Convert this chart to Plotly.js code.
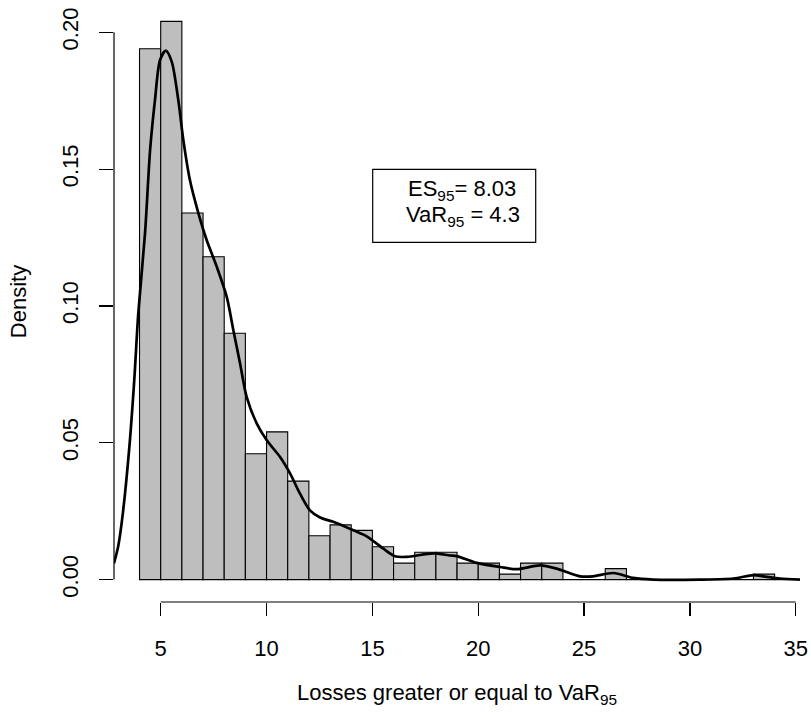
<!DOCTYPE html>
<html>
<head>
<meta charset="utf-8">
<script src="https://cdn.plot.ly/plotly-3.0.1.min.js"></script>
<style>html,body{margin:0;padding:0;background:#fff;}#chart{width:811px;height:714px;}</style>
</head>
<body>
<div id="chart"></div>
<script>
// Histogram breaks (bin edges) and densities
const breaks = [4,5,6,7,8,9,10,11,12,13,14,15,16,17,18,19,20,21,22,23,24,25,26,27,28,29,30,31,32,33,34,35];
const densities = [0.194,0.204,0.134,0.118,0.090,0.046,0.054,0.036,0.016,0.020,0.018,0.012,0.006,0.010,0.010,0.006,0.006,0.002,0.006,0.006,0,0,0.004,0,0,0,0,0,0,0.002,0];

// Kernel density curve
const kdeX = [2.79,3.00,3.21,3.52,3.75,3.94,4.26,4.50,4.73,4.97,5.24,5.52,5.83,6.07,6.38,6.78,7.17,7.65,8.12,8.43,8.75,9.06,9.54,10.01,10.64,11.11,11.58,12.05,12.53,13.15,14.10,14.73,15.52,16.07,16.62,17.88,18.67,18.98,19.93,21.03,21.82,22.92,23.71,24.81,25.42,26.38,27.32,28.27,30.47,32.05,33.00,33.46,34.25,35.20];
const kdeY = [0.0059,0.0125,0.0241,0.0485,0.0728,0.0972,0.1266,0.1570,0.1753,0.1899,0.1933,0.1893,0.1753,0.1606,0.1460,0.1339,0.1241,0.1143,0.1033,0.0912,0.0790,0.0668,0.0570,0.0509,0.0448,0.0388,0.0314,0.0253,0.0227,0.0211,0.0180,0.0158,0.0113,0.0085,0.0083,0.0096,0.0088,0.0086,0.0061,0.0046,0.0038,0.0052,0.0040,0.0012,0.0012,0.0024,0.0006,0.0000,0.0000,0.0004,0.0016,0.0012,0.0004,0.0000];

const xTicks = [5,10,15,20,25,30,35];
const yTicks = [0,0.05,0.10,0.15,0.20];
const yTickText = ["0.00","0.05","0.10","0.15","0.20"];

const esText = "ES<sub>95</sub>= 8.03";
const varText = "VaR<sub>95</sub> = 4.3";
const xTitle = "Losses greater or equal to VaR<sub>95</sub>";
const yTitle = "Density";

const centers = densities.map((d,i)=> (breaks[i]+breaks[i+1])/2);
const widths = densities.map((d,i)=> breaks[i+1]-breaks[i]);

const FONT = "Liberation Sans, Arial, Helvetica, sans-serif";
const L=114, R=800, T=3, B=601.7;
const xp = px => (px-L)/(R-L);
const yp = py => (B-py)/(B-T);

const traces = [
  {type:'bar', x:centers, y:densities, width:widths,
   marker:{color:'#BEBEBE', line:{color:'#000', width:1.1}}, hoverinfo:'skip'},
  {type:'scatter', mode:'lines', x:kdeX, y:kdeY,
   line:{color:'#000', width:2.7, shape:'spline', smoothing:0.8}, hoverinfo:'skip'}
];

const layout = {
  width:811, height:714,
  margin:{l:L, r:811-R, t:T, b:714-B},
  paper_bgcolor:'#fff', plot_bgcolor:'#fff',
  showlegend:false, bargap:0,
  font:{family:FONT, size:22, color:'#000'},
  xaxis:{range:[2.794,35.20], tickvals:xTicks, ticktext:xTicks.map(String),
         ticks:'outside', ticklen:13, tickwidth:1.2, tickcolor:'#000',
         showgrid:false, zeroline:false, showline:false,
         ticklabelstandoff:14, tickfont:{family:FONT,size:22,color:'#000'}},
  yaxis:{range:[-0.00819,0.21072], tickvals:yTicks, ticktext:yTickText,
         ticks:'outside', ticklen:14, tickwidth:1.2, tickcolor:'#000', tickangle:-90,
         showgrid:false, zeroline:false, showline:false,
         ticklabelstandoff:12, tickfont:{family:FONT,size:22,color:'#000'}},
  shapes:[
    {type:'line', xref:'x', yref:'paper', x0:xTicks[0], x1:xTicks[xTicks.length-1], y0:0, y1:0, line:{color:'#000', width:1.2}},
    {type:'line', xref:'paper', yref:'y', x0:0, x1:0, y0:yTicks[0], y1:yTicks[yTicks.length-1], line:{color:'#000', width:1.2}},
    {type:'rect', xref:'paper', yref:'paper', x0:xp(372.7), x1:xp(535.7), y0:yp(242.3), y1:yp(169.3), line:{color:'#000', width:1.2}}
  ],
  annotations:[
    {text:esText, xref:'paper', yref:'paper', x:xp(461.7), y:yp(189.5), xanchor:'center', yanchor:'middle', showarrow:false, font:{family:FONT,size:22,color:'#000'}},
    {text:varText, xref:'paper', yref:'paper', x:xp(463), y:yp(216), xanchor:'center', yanchor:'middle', showarrow:false, font:{family:FONT,size:22,color:'#000'}},
    {text:xTitle, xref:'paper', yref:'paper', x:xp(457), y:yp(694), xanchor:'center', yanchor:'middle', showarrow:false, font:{family:FONT,size:22,color:'#000'}},
    {text:yTitle, xref:'paper', yref:'paper', x:xp(18), y:yp(302), xanchor:'center', yanchor:'middle', textangle:-90, showarrow:false, font:{family:FONT,size:22,color:'#000'}}
  ]
};

Plotly.newPlot('chart', traces, layout, {displayModeBar:false, staticPlot:true});
</script>
</body>
</html>
